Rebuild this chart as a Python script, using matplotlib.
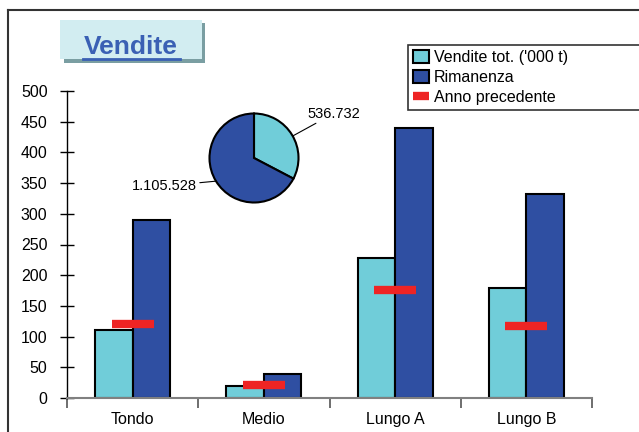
import matplotlib.pyplot as plt
from matplotlib.patches import Rectangle
from matplotlib.lines import Line2D

plt.rcParams['font.family'] = ['Liberation Sans', 'DejaVu Sans']

categorie = ['Tondo', 'Medio', 'Lungo A', 'Lungo B']
vendite = [110, 20, 228, 179]
rimanenza = [290, 39, 440, 332]
anno_prec = [121, 21, 176, 117]
torta_valori = [536.732, 1105.528]
torta_etichette = ['536.732', '1.105.528']
y_ticks = [0, 50, 100, 150, 200, 250, 300, 350, 400, 450, 500]

CIANO = '#70cdd9'
BLU = '#2f4fa2'
ROSSO = '#ee2424'

W, H = 639, 432
fig = plt.figure(figsize=(W / 100, H / 100), dpi=100)

# cornice esterna
fig.add_artist(Line2D([8 / W, 8 / W], [0, 1 - 10 / H], color='#333333', lw=1.5))
fig.add_artist(Line2D([8 / W, 1], [1 - 10 / H, 1 - 10 / H], color='#333333', lw=1.5))

ax = fig.add_axes([67 / W, 1 - 398 / H, (592 - 67) / W, (398 - 91) / H])
x = list(range(len(categorie)))
bw = 0.285
b1 = ax.bar([i - bw / 2 for i in x], vendite, bw, color=CIANO, edgecolor='black', lw=1.5,
            label="Vendite tot. ('000 t)", zorder=2)
b2 = ax.bar([i + bw / 2 for i in x], rimanenza, bw, color=BLU, edgecolor='black', lw=1.5,
            label='Rimanenza', zorder=2)
l3 = ax.hlines(anno_prec, [i - 0.16 for i in x], [i + 0.16 for i in x], color=ROSSO, lw=6,
               label='Anno precedente', zorder=3)

ax.set_xlim(-0.5, 3.5)
ax.set_ylim(0, 500)
ax.set_xticks(x)
ax.set_xticklabels(categorie, fontsize=11.5)
ax.set_xticks([-0.5, 0.5, 1.5, 2.5, 3.5], minor=True)
ax.tick_params(axis='x', which='major', length=0, pad=10)
ax.tick_params(axis='x', which='minor', length=7, width=1.2, color='#555555', direction='out')
ax.set_yticks(y_ticks)
ax.set_yticklabels([str(v) for v in y_ticks], fontsize=11.5)
ax.tick_params(axis='y', direction='inout', length=10, width=1, pad=9)
for s in ['top', 'right']:
    ax.spines[s].set_visible(False)
ax.spines['left'].set_linewidth(1)
ax.spines['bottom'].set_color('#808080')
ax.spines['bottom'].set_linewidth(1.5)

leg = ax.legend(handles=[b1, b2, l3], loc='upper left',
                bbox_to_anchor=(408 / W, 1 - 110 / H, 240 / W, 65 / H), mode='expand',
                bbox_transform=fig.transFigure, fontsize=11.5, frameon=True, fancybox=False,
                edgecolor='black', handlelength=1.0, handleheight=0.9, handletextpad=0.3,
                labelspacing=0.32, borderpad=0.3, borderaxespad=0)
leg.get_frame().set_linewidth(1.2)

# torta
r = 44.5
pa = fig.add_axes([(254 - r) / W, (H - 158 - r) / H, 2 * r / W, 2 * r / H])
pa.pie(torta_valori, colors=[CIANO, BLU], startangle=90, counterclock=False,
       wedgeprops=dict(edgecolor='black', linewidth=1.5))
pa.set_xlim(-1, 1)
pa.set_ylim(-1, 1)
freccia = dict(arrowstyle='-', lw=0.8, color='black', shrinkA=0, shrinkB=0)
pa.annotate(torta_etichette[0], xy=(0.88, 0.5), xytext=(1.2, 1.0), fontsize=10.5,
            ha='left', va='center', arrowprops=freccia)
pa.annotate(torta_etichette[1], xy=(-0.85, -0.52), xytext=(-1.28, -0.63), fontsize=10.5,
            ha='right', va='center', arrowprops=freccia)

# riquadro titolo
fig.add_artist(Rectangle((64 / W, 1 - 63 / H), 141 / W, 40 / H, transform=fig.transFigure,
                         facecolor='#7a9ea2', edgecolor='none'))
fig.add_artist(Rectangle((60 / W, 1 - 59 / H), 142 / W, 39 / H, transform=fig.transFigure,
                         facecolor='#d2edf1', edgecolor='none'))
fig.text(131 / W, 1 - 54 / H, 'Vendite', fontsize=19, fontweight='bold', color='#3a60b4',
         ha='center', va='baseline')
fig.add_artist(Line2D([83 / W, 180 / W], [1 - 58.5 / H, 1 - 58.5 / H], color='#3a60b4', lw=2))

fig.savefig('out.png', dpi=100)
